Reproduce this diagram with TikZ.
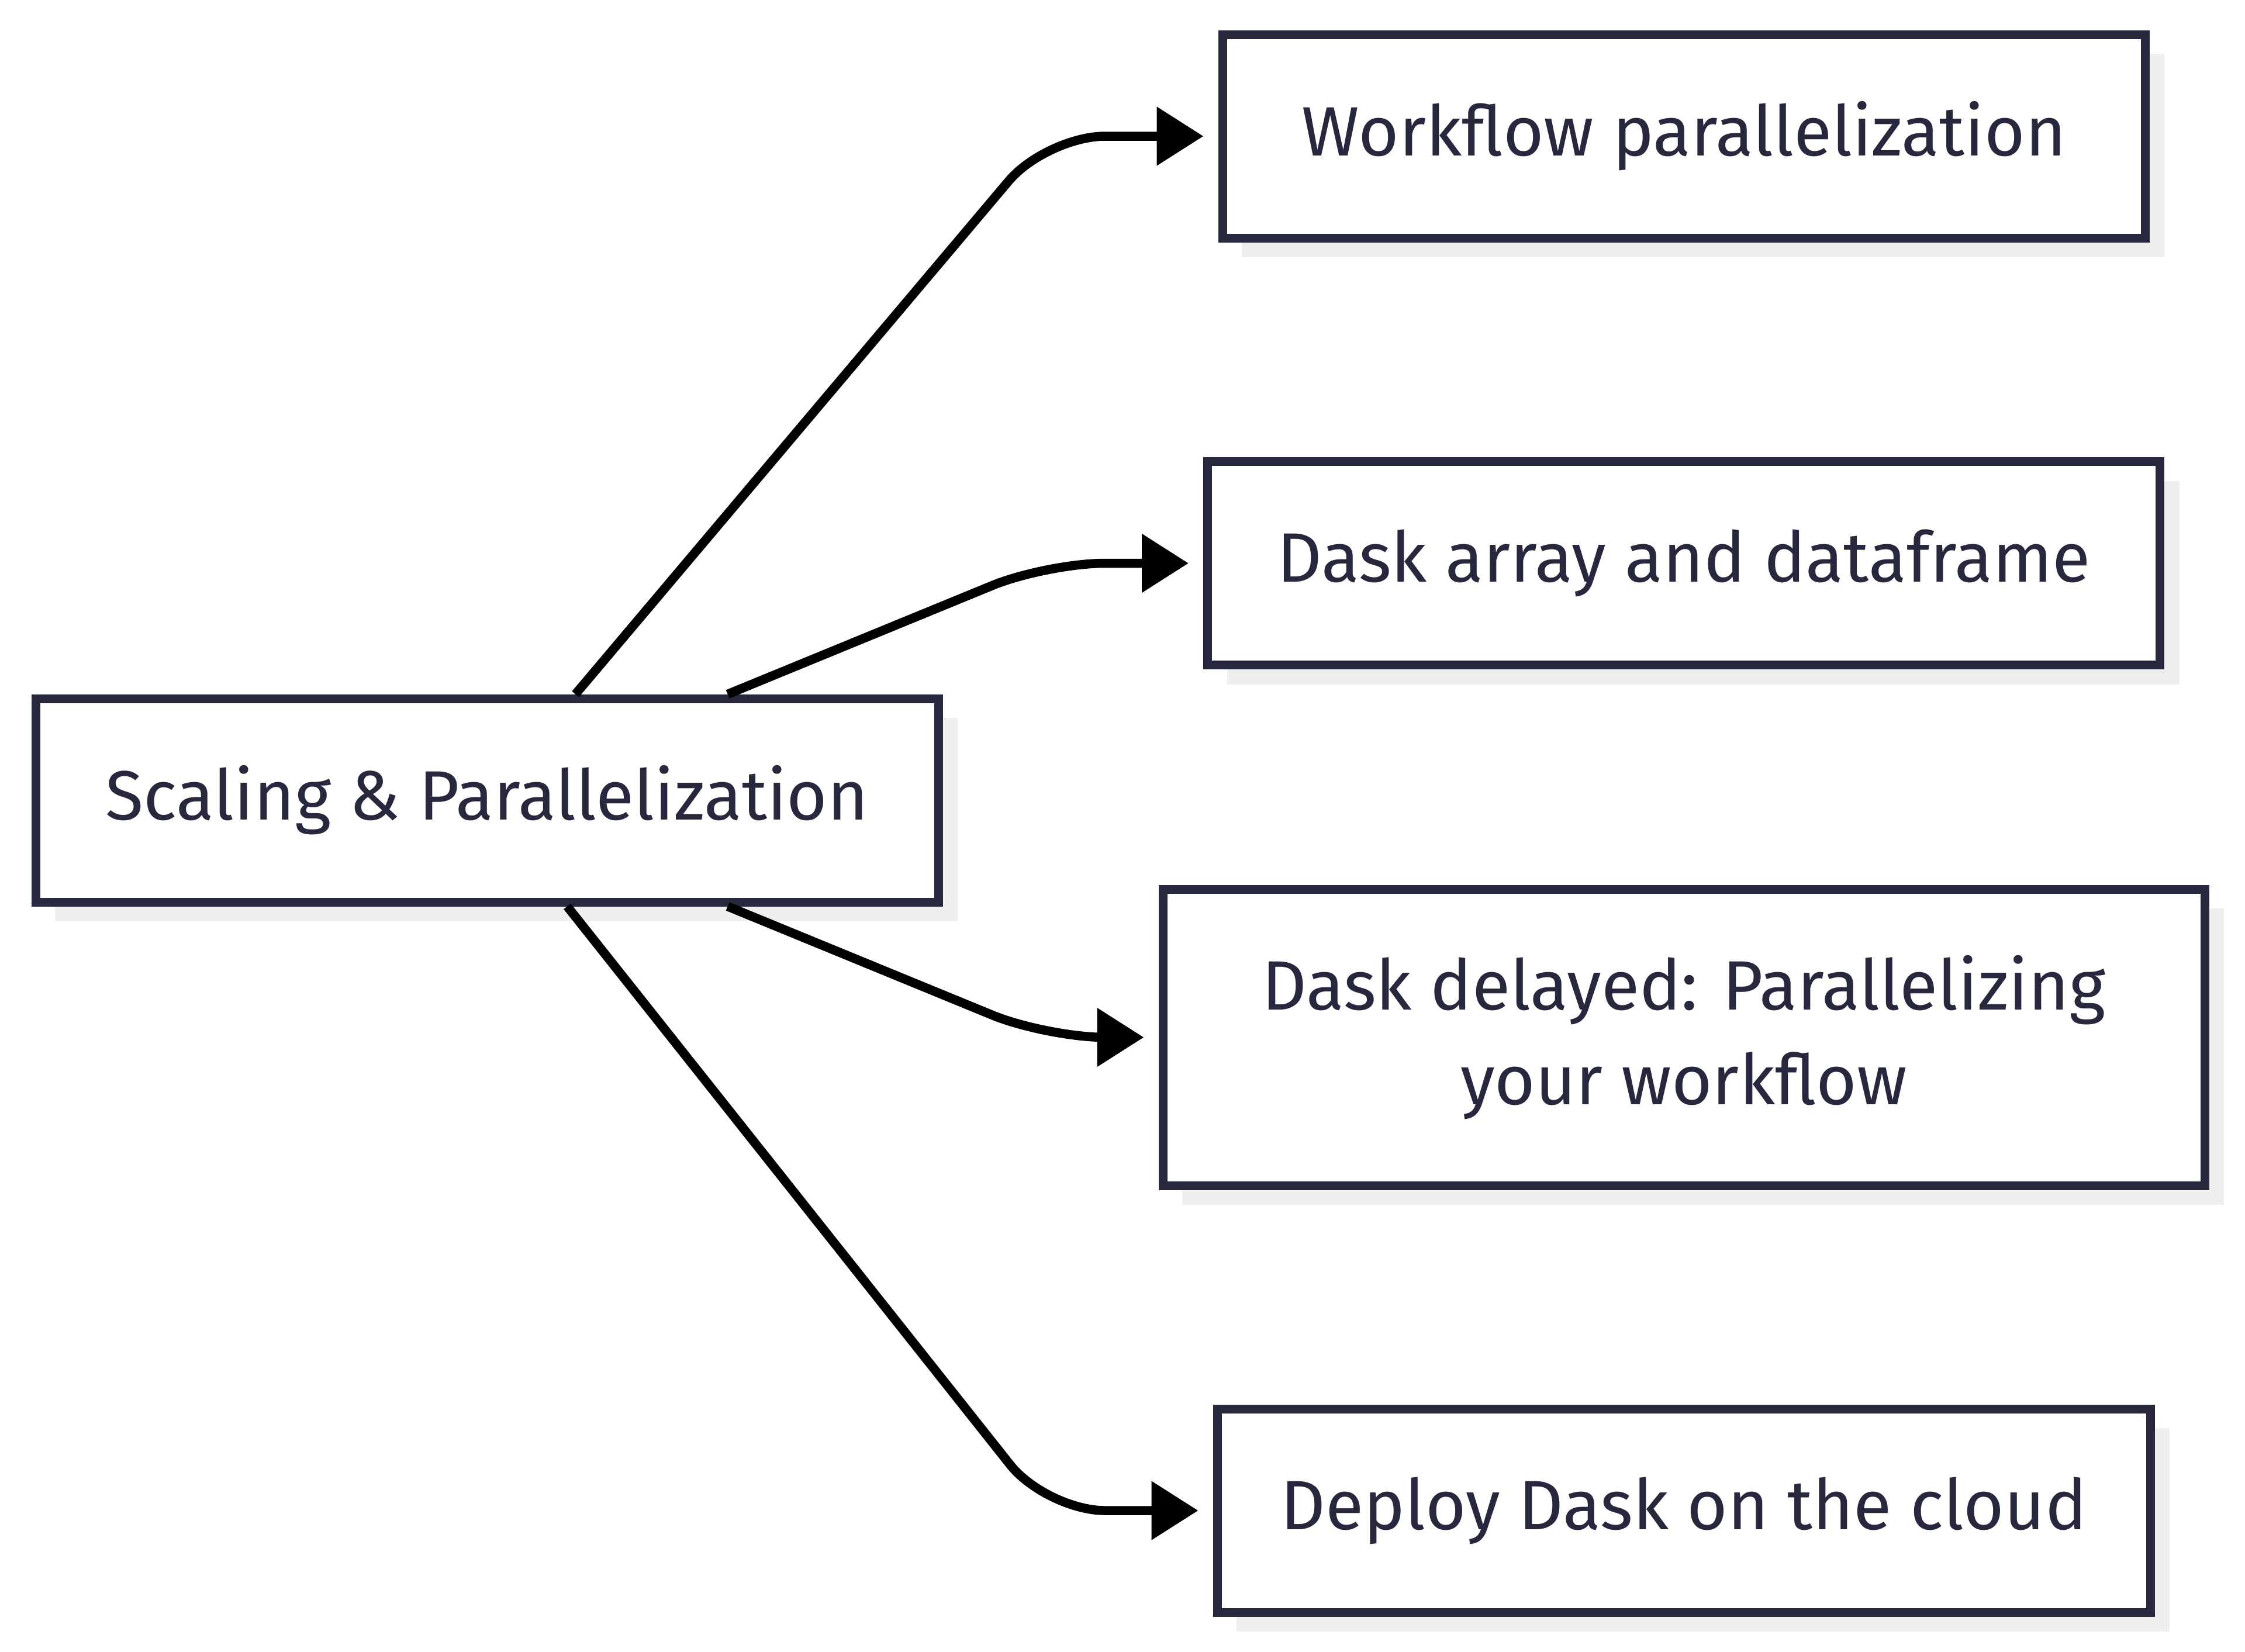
\documentclass[tikz,border=0pt]{standalone}
\usepackage{fontspec}
\setmainfont{Fira Sans}
\usetikzlibrary{arrows.meta,calc,shadows}
\definecolor{Ink}{HTML}{27273D}
\definecolor{Shade}{HTML}{EFEFEF}

\begin{document}
\begin{tikzpicture}[
        %Environment Cfg.
        font=\fontsize{34}{46}\selectfont,
        >={Triangle[length=8mm,width=9.7mm]},%from arrows.meta
        %Environment Styles.
        tBox/.style={
            rectangle,
            draw=Ink,
            line width=1.5mm,
            fill=white,
            text=Ink,
            align=center,
            minimum height=3.48cm,
            drop shadow={shadow xshift=3.3mm, shadow yshift=-3.3mm,
                fill=Shade, opacity=1}
        },
        link/.style={
            ->,
            line width=1.55mm,
            black,
            rounded corners=1cm,
            shorten >=2.5mm
        },
    ]
    \useasboundingbox (0,0) rectangle (38.4,-28.25);

    %Boxes, all targets share one column.
    \node[tBox, minimum width=15.44cm] (SCAL) at (8.33,-13.69) {Scaling \& Parallelization};
    \node[tBox, minimum width=15.78cm] (WFP) at (28.8,-2.33) {Workflow parallelization};
    \node[tBox, minimum width=16.29cm] (DADF) at (28.8,-9.635) {Dask array and dataframe};
    \node[tBox, minimum width=17.82cm, minimum height=5.07cm] (DDEL) at (28.8,-17.745)
        {Dask delayed: Parallelizing\\your workflow};
    \node[tBox, minimum width=15.96cm] (DEPL) at (28.8,-25.84) {Deploy Dask on the cloud};

    %Where the links leave the source box, and where they bend.
    \coordinate (OUT-1) at ($(SCAL.north west)!0.597!(SCAL.north east)$);
    \coordinate (OUT-2) at ($(SCAL.north west)!0.764!(SCAL.north east)$);
    \coordinate (OUT-3) at ($(SCAL.south west)!0.764!(SCAL.south east)$);
    \coordinate (OUT-4) at ($(SCAL.south west)!0.588!(SCAL.south east)$);
    \coordinate (KNK) at (17.9,0);

    %Draw the links.
    \draw[link] (OUT-1) -- (KNK |- WFP.west) -- (WFP.west);
    \draw[link] (OUT-2) -- (KNK |- DADF.west) -- (DADF.west);
    \draw[link] (OUT-3) -- (KNK |- DDEL.west) -- (DDEL.west);
    \draw[link] (OUT-4) -- (KNK |- DEPL.west) -- (DEPL.west);

\end{tikzpicture}
\end{document}
